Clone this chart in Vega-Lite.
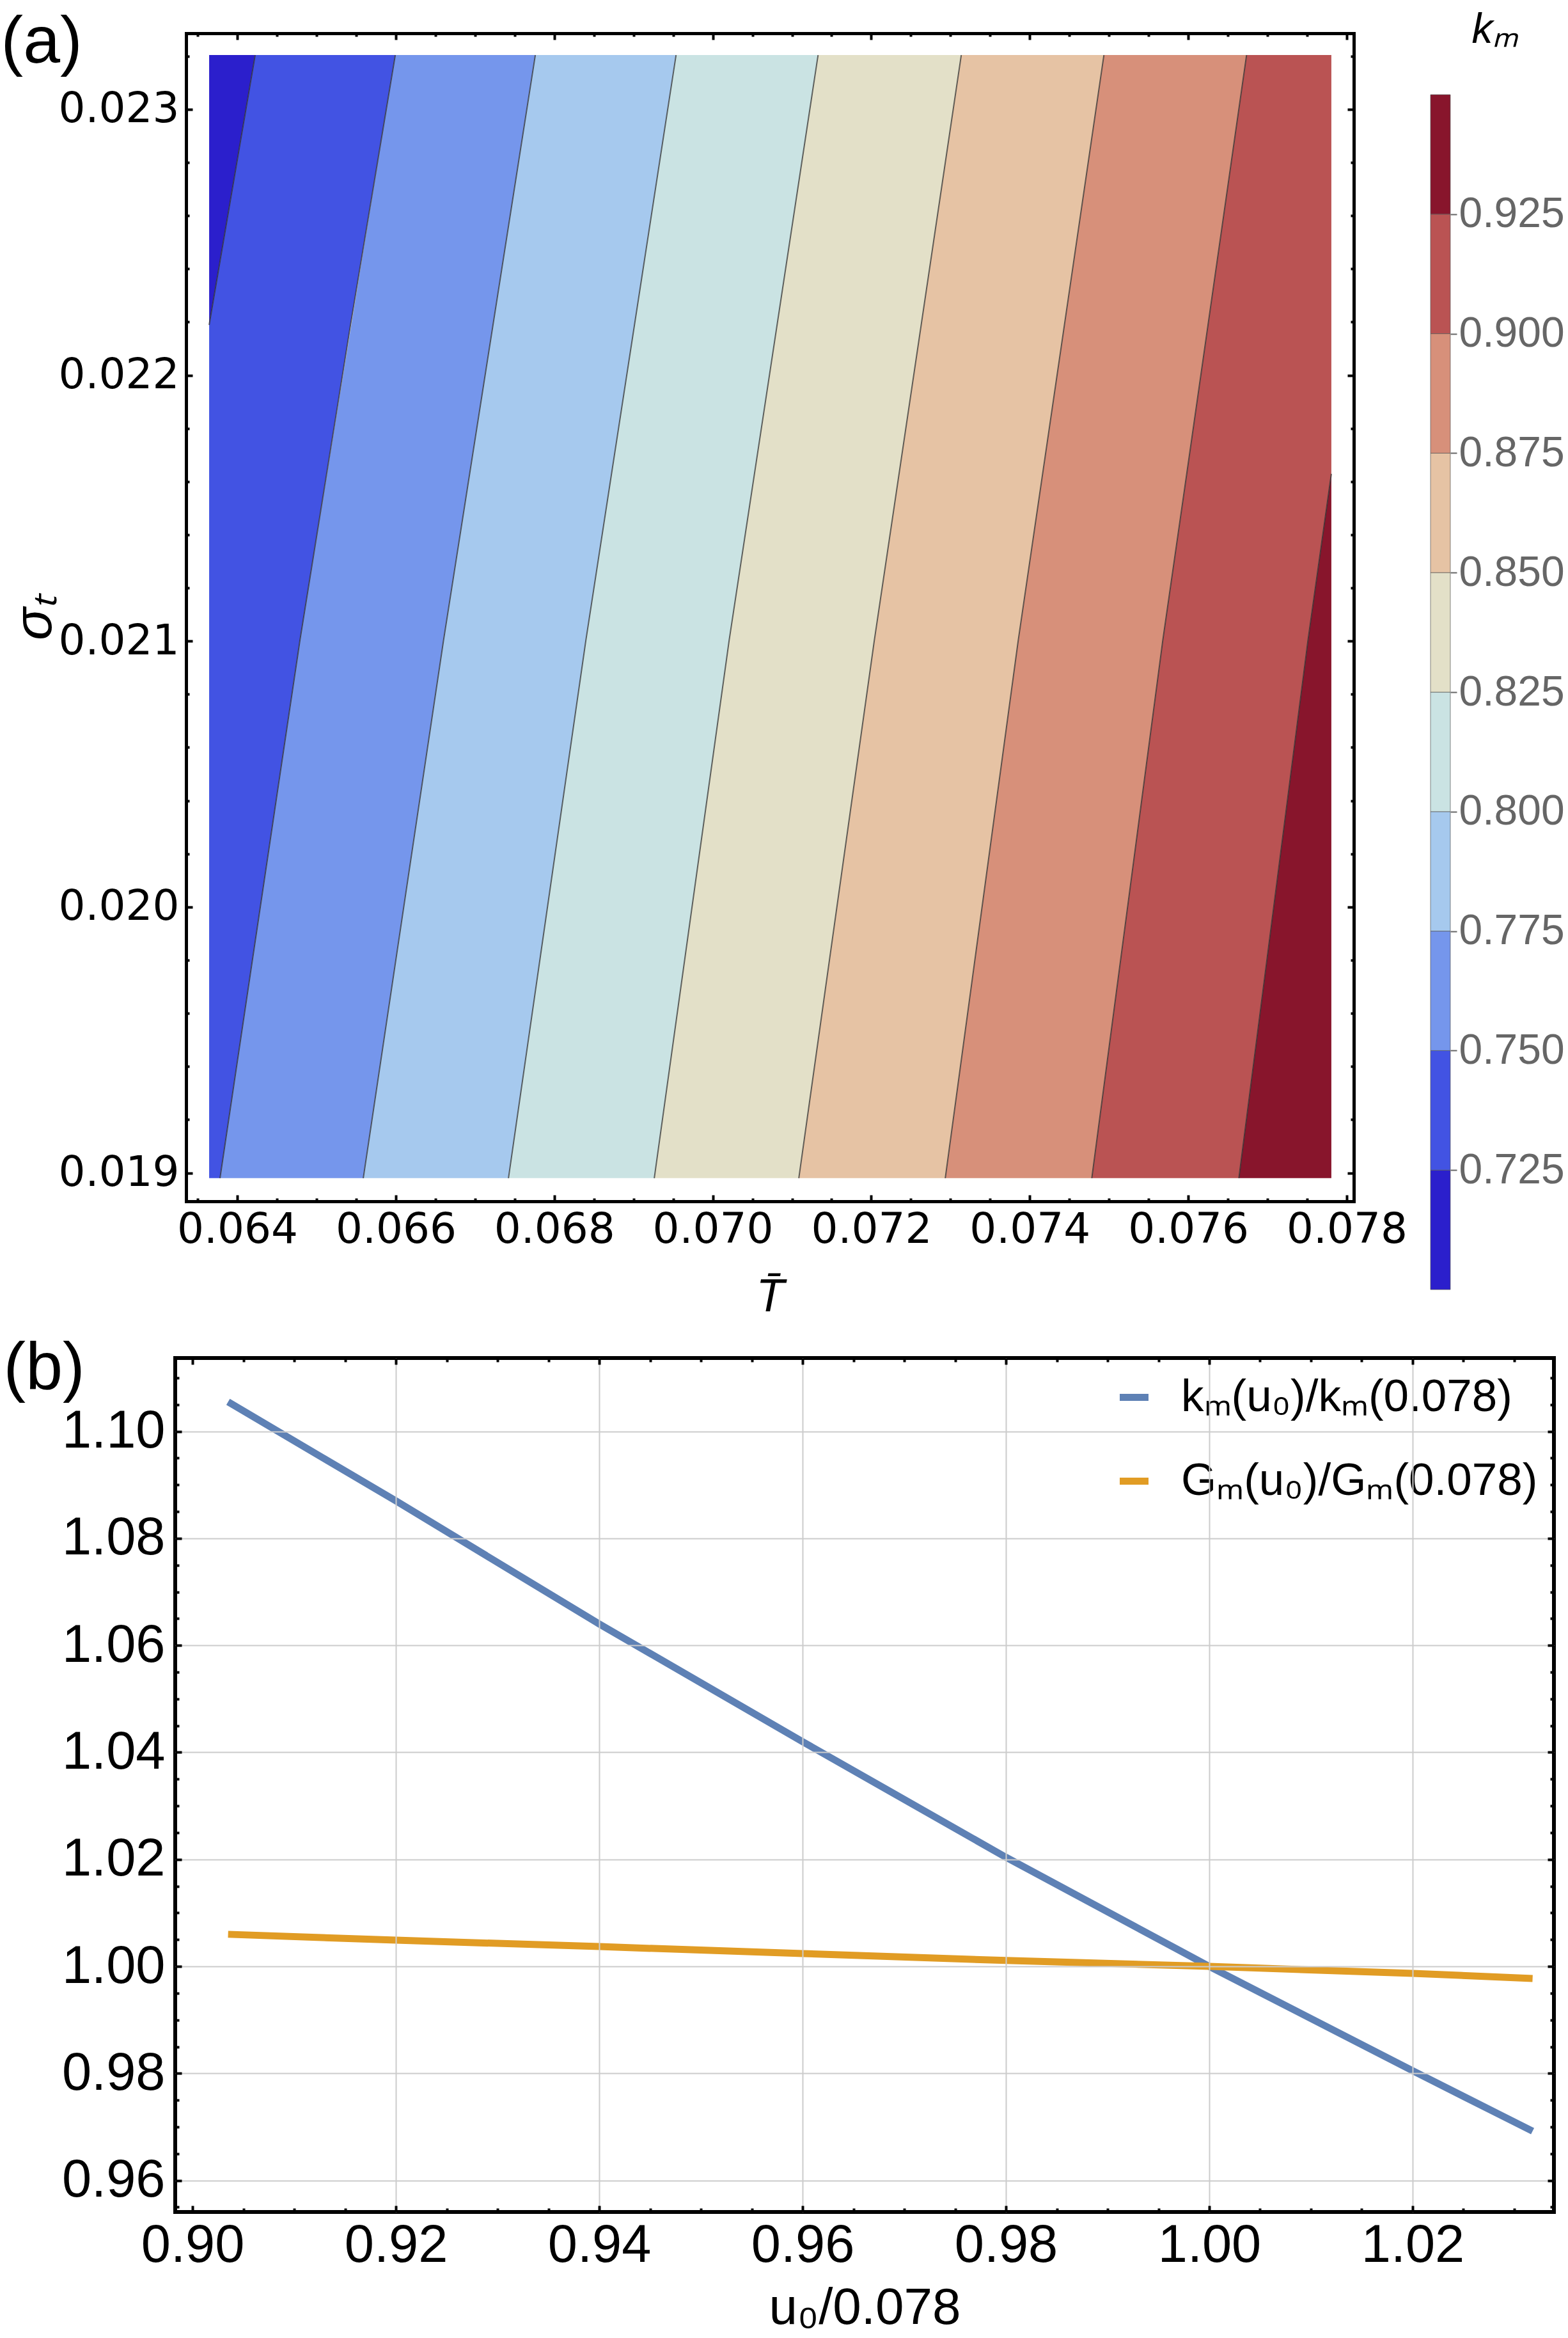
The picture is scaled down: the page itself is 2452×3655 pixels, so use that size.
{
  "$schema": "https://vega.github.io/schema/vega-lite/v6.json",
  "background": "white",
  "padding": {"left": 1, "top": 13, "right": 0, "bottom": 0},
  "config": {"view": {"stroke": null}, "font": "Liberation Sans"},
  "datasets": {
    "bands": [
      {"band": "b0", "s": 0.023204, "t": 0.063645, "t2": 0.064226},
      {"band": "b0", "s": 0.022189, "t": 0.063645, "t2": 0.063645},
      {"band": "b1", "s": 0.023204, "t": 0.064226, "t2": 0.065994},
      {"band": "b1", "s": 0.022189, "t": 0.063645, "t2": 0.065429},
      {"band": "b1", "s": 0.021003, "t": 0.063645, "t2": 0.064791},
      {"band": "b1", "s": 0.01898, "t": 0.063645, "t2": 0.063782},
      {"band": "b2", "s": 0.023204, "t": 0.065994, "t2": 0.067761},
      {"band": "b2", "s": 0.021003, "t": 0.064791, "t2": 0.066603},
      {"band": "b2", "s": 0.01898, "t": 0.063782, "t2": 0.06559},
      {"band": "b3", "s": 0.023204, "t": 0.067761, "t2": 0.069537},
      {"band": "b3", "s": 0.021003, "t": 0.066603, "t2": 0.068399},
      {"band": "b3", "s": 0.01898, "t": 0.06559, "t2": 0.067422},
      {"band": "b4", "s": 0.023204, "t": 0.069537, "t2": 0.071329},
      {"band": "b4", "s": 0.021003, "t": 0.068399, "t2": 0.070207},
      {"band": "b4", "s": 0.01898, "t": 0.067422, "t2": 0.069262},
      {"band": "b5", "s": 0.023204, "t": 0.071329, "t2": 0.073136},
      {"band": "b5", "s": 0.021003, "t": 0.070207, "t2": 0.072039},
      {"band": "b5", "s": 0.01898, "t": 0.069262, "t2": 0.071086},
      {"band": "b6", "s": 0.023204, "t": 0.073136, "t2": 0.074936},
      {"band": "b6", "s": 0.021003, "t": 0.072039, "t2": 0.073855},
      {"band": "b6", "s": 0.01898, "t": 0.071086, "t2": 0.072934},
      {"band": "b7", "s": 0.023204, "t": 0.074936, "t2": 0.076736},
      {"band": "b7", "s": 0.021003, "t": 0.073855, "t2": 0.075679},
      {"band": "b7", "s": 0.01898, "t": 0.072934, "t2": 0.074783},
      {"band": "b8", "s": 0.023204, "t": 0.076736, "t2": 0.077806},
      {"band": "b8", "s": 0.021629, "t": 0.075981, "t2": 0.077806},
      {"band": "b8", "s": 0.021003, "t": 0.075679, "t2": 0.077511},
      {"band": "b8", "s": 0.01898, "t": 0.074783, "t2": 0.076639},
      {"band": "b9", "s": 0.021629, "t": 0.077806, "t2": 0.077806},
      {"band": "b9", "s": 0.021003, "t": 0.077511, "t2": 0.077806},
      {"band": "b9", "s": 0.01898, "t": 0.076639, "t2": 0.077806}
    ],
    "contours": [
      {"lvl": "0.725", "s": 0.023204, "t": 0.064226},
      {"lvl": "0.725", "s": 0.022189, "t": 0.063645},
      {"lvl": "0.750", "s": 0.023204, "t": 0.065994},
      {"lvl": "0.750", "s": 0.022189, "t": 0.065429},
      {"lvl": "0.750", "s": 0.021003, "t": 0.064791},
      {"lvl": "0.750", "s": 0.01898, "t": 0.063782},
      {"lvl": "0.775", "s": 0.023204, "t": 0.067761},
      {"lvl": "0.775", "s": 0.021003, "t": 0.066603},
      {"lvl": "0.775", "s": 0.01898, "t": 0.06559},
      {"lvl": "0.800", "s": 0.023204, "t": 0.069537},
      {"lvl": "0.800", "s": 0.021003, "t": 0.068399},
      {"lvl": "0.800", "s": 0.01898, "t": 0.067422},
      {"lvl": "0.825", "s": 0.023204, "t": 0.071329},
      {"lvl": "0.825", "s": 0.021003, "t": 0.070207},
      {"lvl": "0.825", "s": 0.01898, "t": 0.069262},
      {"lvl": "0.850", "s": 0.023204, "t": 0.073136},
      {"lvl": "0.850", "s": 0.021003, "t": 0.072039},
      {"lvl": "0.850", "s": 0.01898, "t": 0.071086},
      {"lvl": "0.875", "s": 0.023204, "t": 0.074936},
      {"lvl": "0.875", "s": 0.021003, "t": 0.073855},
      {"lvl": "0.875", "s": 0.01898, "t": 0.072934},
      {"lvl": "0.900", "s": 0.023204, "t": 0.076736},
      {"lvl": "0.900", "s": 0.021629, "t": 0.075981},
      {"lvl": "0.900", "s": 0.021003, "t": 0.075679},
      {"lvl": "0.900", "s": 0.01898, "t": 0.074783},
      {"lvl": "0.925", "s": 0.021629, "t": 0.077806},
      {"lvl": "0.925", "s": 0.021003, "t": 0.077511},
      {"lvl": "0.925", "s": 0.01898, "t": 0.076639}
    ],
    "bar": [
      {"band": "b0", "lo": 0.7, "hi": 0.725},
      {"band": "b1", "lo": 0.725, "hi": 0.75},
      {"band": "b2", "lo": 0.75, "hi": 0.775},
      {"band": "b3", "lo": 0.775, "hi": 0.8},
      {"band": "b4", "lo": 0.8, "hi": 0.825},
      {"band": "b5", "lo": 0.825, "hi": 0.85},
      {"band": "b6", "lo": 0.85, "hi": 0.875},
      {"band": "b7", "lo": 0.875, "hi": 0.9},
      {"band": "b8", "lo": 0.9, "hi": 0.925},
      {"band": "b9", "lo": 0.925, "hi": 0.95}
    ],
    "ratios": [
      {"s": "kₘ(u₀)/kₘ(0.078)", "u": 0.9035, "v": 1.1055},
      {"s": "kₘ(u₀)/kₘ(0.078)", "u": 0.92, "v": 1.087},
      {"s": "kₘ(u₀)/kₘ(0.078)", "u": 0.94, "v": 1.064},
      {"s": "kₘ(u₀)/kₘ(0.078)", "u": 0.96, "v": 1.042},
      {"s": "kₘ(u₀)/kₘ(0.078)", "u": 0.98, "v": 1.0204},
      {"s": "kₘ(u₀)/kₘ(0.078)", "u": 1.0, "v": 1.0},
      {"s": "kₘ(u₀)/kₘ(0.078)", "u": 1.02, "v": 0.9805},
      {"s": "kₘ(u₀)/kₘ(0.078)", "u": 1.0318, "v": 0.9692},
      {"s": "Gₘ(u₀)/Gₘ(0.078)", "u": 0.9035, "v": 1.006},
      {"s": "Gₘ(u₀)/Gₘ(0.078)", "u": 0.92, "v": 1.0049},
      {"s": "Gₘ(u₀)/Gₘ(0.078)", "u": 0.94, "v": 1.0037},
      {"s": "Gₘ(u₀)/Gₘ(0.078)", "u": 0.96, "v": 1.0024},
      {"s": "Gₘ(u₀)/Gₘ(0.078)", "u": 0.98, "v": 1.0011},
      {"s": "Gₘ(u₀)/Gₘ(0.078)", "u": 1.0, "v": 1.0},
      {"s": "Gₘ(u₀)/Gₘ(0.078)", "u": 1.02, "v": 0.9987},
      {"s": "Gₘ(u₀)/Gₘ(0.078)", "u": 1.0318, "v": 0.99775}
    ]
  },
  "bounds": "flush",
  "spacing": 245,
  "resolve": {"scale": {"color": "independent"}},
  "vconcat": [
    {
      "width": 1843,
      "height": 1826,
      "layer": [
        {
          "data": {"name": "bands"},
          "mark": {"type": "area", "orient": "horizontal"},
          "encoding": {
            "y": {
              "field": "s", "type": "quantitative",
              "scale": {"domain": [0.018893, 0.023286], "range": [1826, 0], "nice": false, "zero": false},
              "axis": {
                "orient": "left", "offset": -17,
                "values": [0.019, 0.0192, 0.0194, 0.0196, 0.0198, 0.02, 0.0202, 0.0204, 0.0206, 0.0208, 0.021, 0.0212, 0.0214, 0.0216, 0.0218, 0.022, 0.0222, 0.0224, 0.0226, 0.0228, 0.023, 0.0232],
                "labelExpr": "abs(datum.value*1000 - round(datum.value*1000)) < 0.01 ? format(datum.value, '.3f') : ''",
                "tickSize": {"condition": {"test": "abs(datum.value*1000 - round(datum.value*1000)) < 0.01", "value": -10}, "value": -5},
                "tickWidth": 4, "tickColor": "black",
                "domain": true, "domainColor": "black", "domainWidth": 5, "domainCap": "square",
                "grid": false,
                "labelFont": "DejaVu Sans", "labelFontSize": 66, "labelColor": "black", "labelPadding": 21, "labelLimit": 500,
                "labelOverlap": false, "labelFlush": false,
                "title": "σₜ", "titleFont": "Liberation Sans", "titleFontSize": 84, "titleFontStyle": "italic", "titleFontWeight": "normal", "titleColor": "black",
                "titleAngle": 270, "titleX": -212, "titleY": 913, "titleBaseline": "alphabetic", "titleAlign": "center",
                "zindex": 1
              }
            },
            "x": {
              "field": "t", "type": "quantitative",
              "scale": {"domain": [0.063354, 0.078089], "range": [17, 1843], "nice": false, "zero": false},
              "axis": {
                "orient": "bottom",
                "values": [0.0635, 0.064, 0.0645, 0.065, 0.0655, 0.066, 0.0665, 0.067, 0.0675, 0.068, 0.0685, 0.069, 0.0695, 0.07, 0.0705, 0.071, 0.0715, 0.072, 0.0725, 0.073, 0.0735, 0.074, 0.0745, 0.075, 0.0755, 0.076, 0.0765, 0.077, 0.0775, 0.078],
                "labelExpr": "abs(datum.value*500 - round(datum.value*500)) < 0.01 ? format(datum.value, '.3f') : ''",
                "tickSize": {"condition": {"test": "abs(datum.value*500 - round(datum.value*500)) < 0.01", "value": -10}, "value": -5},
                "tickWidth": 4, "tickColor": "black",
                "domain": true, "domainColor": "black", "domainWidth": 5, "domainCap": "square",
                "grid": false,
                "labelFont": "DejaVu Sans", "labelFontSize": 66, "labelColor": "black", "labelPadding": 22, "labelLimit": 500,
                "labelOverlap": false, "labelFlush": false,
                "title": "T̄", "titleFont": "Liberation Sans", "titleFontSize": 72, "titleFontStyle": "italic", "titleFontWeight": "normal", "titleColor": "black",
                "titleY": 171, "titleBaseline": "alphabetic",
                "zindex": 1
              }
            },
            "x2": {"field": "t2"},
            "color": {
              "field": "band", "type": "nominal",
              "scale": {"domain": ["b0", "b1", "b2", "b3", "b4", "b5", "b6", "b7", "b8", "b9"], "range": ["#2B1FCC", "#4253E3", "#7596EC", "#A6C9EE", "#CAE3E3", "#E3E0C8", "#E6C3A4", "#D7907A", "#BA5353", "#88152C"]},
              "legend": null
            }
          }
        },
        {
          "data": {"name": "contours"},
          "mark": {"type": "line", "stroke": "#333333", "strokeWidth": 2, "opacity": 0.75},
          "encoding": {
            "x": {
              "field": "t", "type": "quantitative",
              "scale": {"domain": [0.063354, 0.078089], "range": [17, 1843], "nice": false, "zero": false},
              "axis": {
                "orient": "top",
                "values": [0.0635, 0.064, 0.0645, 0.065, 0.0655, 0.066, 0.0665, 0.067, 0.0675, 0.068, 0.0685, 0.069, 0.0695, 0.07, 0.0705, 0.071, 0.0715, 0.072, 0.0725, 0.073, 0.0735, 0.074, 0.0745, 0.075, 0.0755, 0.076, 0.0765, 0.077, 0.0775, 0.078],
                "labels": false, "grid": false,
                "domain": true, "domainColor": "black", "domainWidth": 5, "domainCap": "square",
                "tickSize": {"condition": {"test": "abs(datum.value*500 - round(datum.value*500)) < 0.01", "value": -10}, "value": -5},
                "tickWidth": 4, "tickColor": "black",
                "title": "(a)", "titleFont": "Liberation Sans", "titleFontSize": 104, "titleFontWeight": "normal", "titleColor": "black",
                "titleAngle": 0, "titleX": -273, "titleY": 45, "titleAlign": "left", "titleBaseline": "alphabetic",
                "zindex": 1
              }
            },
            "y": {
              "field": "s", "type": "quantitative",
              "scale": {"domain": [0.018893, 0.023286], "range": [1826, 0], "nice": false, "zero": false},
              "axis": {
                "orient": "right",
                "values": [0.019, 0.0192, 0.0194, 0.0196, 0.0198, 0.02, 0.0202, 0.0204, 0.0206, 0.0208, 0.021, 0.0212, 0.0214, 0.0216, 0.0218, 0.022, 0.0222, 0.0224, 0.0226, 0.0228, 0.023, 0.0232],
                "labels": false, "grid": false, "title": null,
                "domain": true, "domainColor": "black", "domainWidth": 5, "domainCap": "square",
                "tickSize": {"condition": {"test": "abs(datum.value*1000 - round(datum.value*1000)) < 0.01", "value": -10}, "value": -5},
                "tickWidth": 4, "tickColor": "black", "zindex": 1
              }
            },
            "detail": {"field": "lvl", "type": "nominal"},
            "order": {"field": "s", "type": "quantitative"}
          }
        },
        {
          "data": {"name": "bar"},
          "mark": {"type": "rect", "stroke": "#555555", "strokeWidth": 1, "strokeOpacity": 0.7},
          "encoding": {
            "x": {"datum": 0, "type": "quantitative", "scale": {"domain": [0, 1], "range": [1963, 1994], "nice": false, "zero": false}, "axis": null},
            "x2": {"datum": 1},
            "y": {
              "field": "lo", "type": "quantitative",
              "scale": {"domain": [0.7, 0.95], "range": [1964, 96], "nice": false, "zero": false},
              "axis": {
                "orient": "right", "offset": 151,
                "values": [0.725, 0.75, 0.775, 0.8, 0.825, 0.85, 0.875, 0.9, 0.925],
                "format": ".3f",
                "labelFont": "Liberation Sans", "labelFontSize": 66, "labelColor": "#666666", "labelPadding": 3, "labelLimit": 500,
                "labelOverlap": false, "labelFlush": false,
                "tickColor": "#666666", "tickSize": 10, "tickWidth": 2,
                "domain": false, "grid": false,
                "title": "kₘ", "titleFont": "Liberation Sans", "titleFontSize": 66, "titleFontStyle": "italic", "titleFontWeight": "normal", "titleColor": "black",
                "titleAngle": 0, "titleX": 33, "titleY": 14, "titleAlign": "left", "titleBaseline": "alphabetic"
              }
            },
            "y2": {"field": "hi"},
            "color": {
              "field": "band", "type": "nominal",
              "scale": {"domain": ["b0", "b1", "b2", "b3", "b4", "b5", "b6", "b7", "b8", "b9"], "range": ["#2B1FCC", "#4253E3", "#7596EC", "#A6C9EE", "#CAE3E3", "#E3E0C8", "#E6C3A4", "#D7907A", "#BA5353", "#88152C"]},
              "legend": null
            }
          }
        }
      ],
      "resolve": {"scale": {"x": "independent", "y": "independent"}, "axis": {"x": "independent", "y": "independent"}}
    },
    {
      "width": 2156,
      "height": 1335,
      "view": {"stroke": "black", "strokeWidth": 6},
      "data": {"name": "ratios"},
      "layer": [
        {
          "mark": {"type": "line", "strokeWidth": 11},
          "encoding": {
            "x": {
              "field": "u", "type": "quantitative",
              "scale": {"domain": [0.8983, 1.0339], "nice": false, "zero": false},
              "axis": {
                "orient": "bottom",
                "values": [0.9, 0.905, 0.91, 0.915, 0.92, 0.925, 0.93, 0.935, 0.94, 0.945, 0.95, 0.955, 0.96, 0.965, 0.97, 0.975, 0.98, 0.985, 0.99, 0.995, 1, 1.005, 1.01, 1.015, 1.02, 1.025, 1.03],
                "labelExpr": "abs(datum.value*50 - round(datum.value*50)) < 0.01 ? format(datum.value, '.2f') : ''",
                "tickSize": {"condition": {"test": "abs(datum.value*50 - round(datum.value*50)) < 0.01", "value": -10}, "value": -6},
                "tickWidth": 4, "tickColor": "black", "domain": false,
                "grid": true, "gridColor": "#cccccc", "gridWidth": 2,
                "gridOpacity": {"condition": {"test": "abs(datum.value*50 - round(datum.value*50)) < 0.01 && datum.value > 0.905", "value": 1}, "value": 0},
                "labelFont": "Liberation Sans", "labelFontSize": 83, "labelColor": "black", "labelPadding": 21, "labelLimit": 500,
                "labelOverlap": false, "labelFlush": false,
                "title": "u₀/0.078", "titleFont": "Liberation Sans", "titleFontSize": 80, "titleFontWeight": "normal", "titleColor": "black",
                "titleY": 174, "titleBaseline": "alphabetic",
                "zindex": 1
              }
            },
            "y": {
              "field": "v", "type": "quantitative",
              "scale": {"domain": [0.9541, 1.1137], "nice": false, "zero": false},
              "axis": {
                "orient": "left",
                "values": [0.955, 0.96, 0.965, 0.97, 0.975, 0.98, 0.985, 0.99, 0.995, 1, 1.005, 1.01, 1.015, 1.02, 1.025, 1.03, 1.035, 1.04, 1.045, 1.05, 1.055, 1.06, 1.065, 1.07, 1.075, 1.08, 1.085, 1.09, 1.095, 1.1, 1.105, 1.11],
                "labelExpr": "abs(datum.value*50 - round(datum.value*50)) < 0.01 ? format(datum.value, '.2f') : ''",
                "tickSize": {"condition": {"test": "abs(datum.value*50 - round(datum.value*50)) < 0.01", "value": -10}, "value": -6},
                "tickWidth": 4, "tickColor": "black", "domain": false,
                "grid": true, "gridColor": "#cccccc", "gridWidth": 2,
                "gridOpacity": {"condition": {"test": "abs(datum.value*50 - round(datum.value*50)) < 0.01", "value": 1}, "value": 0},
                "labelFont": "Liberation Sans", "labelFontSize": 83, "labelColor": "black", "labelPadding": 26, "labelLimit": 500,
                "labelOverlap": false, "labelFlush": false,
                "title": null,
                "zindex": 1
              }
            },
            "color": {
              "field": "s", "type": "nominal",
              "scale": {"domain": ["kₘ(u₀)/kₘ(0.078)", "Gₘ(u₀)/Gₘ(0.078)"], "range": ["#5E81B5", "#E19C24"]},
              "legend": {
                "orient": "none", "legendX": 1464, "legendY": 26, "title": null, "padding": 0,
                "symbolType": "stroke", "symbolSize": 2025, "symbolStrokeWidth": 11,
                "labelFont": "Liberation Sans", "labelFontSize": 71, "labelColor": "black",
                "labelOffset": 38, "labelLimit": 1000, "rowPadding": 59
              }
            }
          }
        },
        {
          "mark": {"type": "line", "opacity": 0},
          "encoding": {
            "x": {
              "field": "u", "type": "quantitative",
              "scale": {"domain": [0.8983, 1.0339], "nice": false, "zero": false},
              "axis": {
                "orient": "top",
                "values": [0.9, 0.905, 0.91, 0.915, 0.92, 0.925, 0.93, 0.935, 0.94, 0.945, 0.95, 0.955, 0.96, 0.965, 0.97, 0.975, 0.98, 0.985, 0.99, 0.995, 1, 1.005, 1.01, 1.015, 1.02, 1.025, 1.03],
                "labels": false, "domain": false, "grid": false,
                "tickSize": {"condition": {"test": "abs(datum.value*50 - round(datum.value*50)) < 0.01", "value": -10}, "value": -6},
                "tickWidth": 4, "tickColor": "black",
                "title": "(b)", "titleFont": "Liberation Sans", "titleFontSize": 104, "titleFontWeight": "normal", "titleColor": "black",
                "titleAngle": 0, "titleX": -269, "titleY": 47, "titleAlign": "left", "titleBaseline": "alphabetic",
                "zindex": 1
              }
            },
            "y": {
              "field": "v", "type": "quantitative",
              "scale": {"domain": [0.9541, 1.1137], "nice": false, "zero": false},
              "axis": {
                "orient": "right",
                "values": [0.955, 0.96, 0.965, 0.97, 0.975, 0.98, 0.985, 0.99, 0.995, 1, 1.005, 1.01, 1.015, 1.02, 1.025, 1.03, 1.035, 1.04, 1.045, 1.05, 1.055, 1.06, 1.065, 1.07, 1.075, 1.08, 1.085, 1.09, 1.095, 1.1, 1.105, 1.11],
                "labels": false, "domain": false, "grid": false, "title": null,
                "tickSize": {"condition": {"test": "abs(datum.value*50 - round(datum.value*50)) < 0.01", "value": -10}, "value": -6},
                "tickWidth": 4, "tickColor": "black", "zindex": 1
              }
            },
            "detail": {"field": "s", "type": "nominal"}
          }
        }
      ],
      "resolve": {"axis": {"x": "independent", "y": "independent"}}
    }
  ]
}
